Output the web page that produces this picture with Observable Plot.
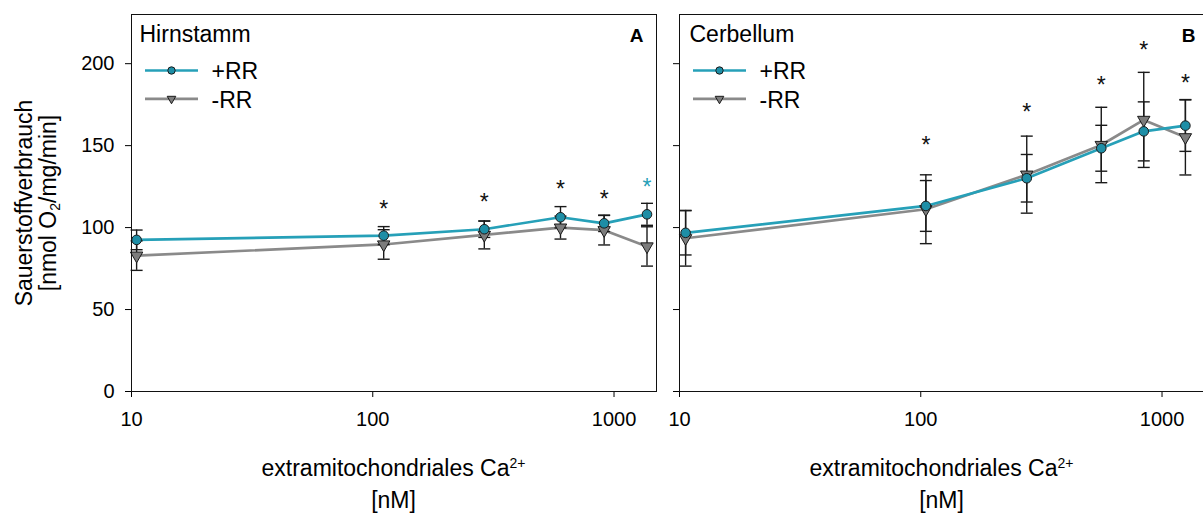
<!DOCTYPE html>
<html><head><meta charset="utf-8">
<script src="https://cdn.jsdelivr.net/npm/d3@7"></script>
<script src="https://cdn.jsdelivr.net/npm/@observablehq/plot@0.6"></script>
<style>
body{margin:0;background:#fff;}
#wrap{position:relative;width:1203px;height:515px;overflow:hidden;background:#fff;font-family:"Liberation Sans",Arial,sans-serif;color:#000;}
.lab{position:absolute;white-space:nowrap;font-size:23px;line-height:23px;transform:translateX(-50%);}
.lab sup{font-size:14px;line-height:0;vertical-align:8px;}
.ylab{position:absolute;left:35.7px;top:202.5px;transform:translate(-50%,-50%) rotate(-90deg);text-align:center;font-size:23px;line-height:24px;white-space:nowrap;}
.ylab sub{font-size:14px;line-height:0;vertical-align:-4px;}
#pA{position:absolute;left:0;top:0;width:660px;}
#pB{position:absolute;left:660px;top:0;width:560px;}
</style></head>
<body>
<div id="wrap">
  <div id="pA"></div>
  <div id="pB"></div>
  <div class="ylab">Sauerstoffverbrauch<br>[nmol O<sub>2</sub>/mg/min]</div>
  <div class="lab" style="left:393.5px;top:456.5px">extramitochondriales Ca<sup>2+</sup></div>
  <div class="lab" style="left:393.5px;top:489px">[nM]</div>
  <div class="lab" style="left:941.5px;top:456.5px">extramitochondriales Ca<sup>2+</sup></div>
  <div class="lab" style="left:941.5px;top:489px">[nM]</div>
</div>
<script>
// ---- data ----
const seriesNames = ["+RR", "-RR"];
const panelTitles = ["Hirnstamm", "Cerbellum"];
const panelLetters = ["A", "B"];
const xTicks = [10, 100, 1000];
const yTicks = [0, 50, 100, 150, 200];

// Panel A (Hirnstamm)
const caA = [10.5, 111, 290, 600, 910, 1370];
const plusA = [92.5, 95.1, 99, 106.3, 102.6, 108.1];
const plusSdA = [6, 5.5, 5, 6.5, 5, 6.7];
const minusA = [82.9, 89.7, 95.5, 100, 98.4, 88.5];
const minusSdA = [9, 9, 8.5, 7, 9, 12];
const starXA = [111, 290, 600, 910, 1370];
const starYA = [114.5, 119.1, 126.6, 120.9, 128];
const starKindA = ["both", "both", "both", "both", "plus"];

// Panel B (Cerbellum)
const caB = [10.6, 105, 275, 560, 840, 1250];
const plusB = [96.8, 113.2, 130.1, 148.4, 158.7, 162.2];
const plusSdB = [13.5, 15.5, 14.5, 14, 18, 15.7];
const minusB = [93.5, 111.2, 132.3, 150.4, 165.7, 155.1];
const minusSdB = [17, 21, 23.5, 23, 29, 23];
const starXB = [105, 275, 560, 840, 1250];
const starYB = [153.5, 173.8, 190.1, 211.6, 191.3];
const starKindB = ["both", "both", "both", "both", "both"];

// ---- styles ----
const TEAL = "#26a0b8", TEALFILL = "#1e8ea6", GREY = "#8a8a8a", GREYFILL = "#7c7c7c", DARK = "#1a1a1a";
const FONT = "'Liberation Sans', Arial, sans-serif";
const lineSym = w => ({draw(ctx) { ctx.moveTo(-w / 2, 0); ctx.lineTo(w / 2, 0); }});
const capSym = lineSym(12), legSym = lineSym(53);

function panel(cfg) {
  const P = cfg.x.map((x, i) => ({x, m: cfg.plus[i], sd: cfg.plusSd[i]}));
  const M = cfg.x.map((x, i) => ({x, m: cfg.minus[i], sd: cfg.minusSd[i]}));
  const S = cfg.starX.map((x, i) => ({x, y: cfg.starY[i], k: cfg.starKind[i]}));
  const err = d => [
    Plot.ruleX(d, {x: "x", y1: r => r.m - r.sd, y2: r => r.m + r.sd, stroke: DARK, strokeWidth: 1.4}),
    Plot.dot(d, {x: "x", y: r => r.m + r.sd, symbol: capSym, stroke: DARK, fill: "none", strokeWidth: 1.4}),
    Plot.dot(d, {x: "x", y: r => r.m - r.sd, symbol: capSym, stroke: DARK, fill: "none", strokeWidth: 1.4})
  ];
  return Plot.plot({
    width: cfg.w, height: 420,
    marginLeft: cfg.ml, marginRight: cfg.mr, marginTop: 14, marginBottom: 29,
    style: {fontFamily: FONT, fontSize: "20px", background: "transparent", maxWidth: "none", overflow: "visible"},
    x: {type: "log", domain: [10, 1500]},
    y: {domain: [0, 230]},
    marks: [
      Plot.axisY({ticks: yTicks, label: null, tickSize: 6, tickPadding: 11, tickFormat: cfg.yLabels ? d => String(d) : () => "", fontSize: 20}),
      Plot.axisX({ticks: xTicks, label: null, tickSize: 6, tickPadding: 14, tickFormat: d => String(d), fontSize: 20}),
      Plot.line(M, {x: "x", y: "m", stroke: GREY, strokeWidth: 2.7}),
      Plot.line(P, {x: "x", y: "m", stroke: TEAL, strokeWidth: 2.7}),
      ...err(M), ...err(P),
      Plot.dot(M, {x: "x", y: "m", symbol: "triangle", rotate: 180, r: 4.6, fill: GREYFILL, stroke: DARK, strokeWidth: 1}),
      Plot.dot(P, {x: "x", y: "m", r: 4.8, fill: TEALFILL, stroke: DARK, strokeWidth: 1}),
      Plot.text(S.filter(d => d.k === "both"), {x: "x", y: "y", text: () => "*", fill: "#111", dy: 6, fontSize: 23}),
      Plot.text(S.filter(d => d.k === "plus"), {x: "x", y: "y", text: () => "*", fill: TEAL, dy: 6, fontSize: 23}),
      Plot.frame({stroke: "#111"}),
      // panel title and letter
      Plot.text([cfg.title], {frameAnchor: "top-left", text: d => d, dx: cfg.titleDx, dy: 10.7, fontSize: 23, lineAnchor: "top", textAnchor: "start"}),
      Plot.text([cfg.letter], {frameAnchor: "top-right", text: d => d, dx: cfg.letterDx, dy: 21.5, fontSize: 19, fontWeight: "bold", lineAnchor: "middle", textAnchor: "end"}),
      // legend
      Plot.dot([0], {frameAnchor: "top-left", dx: 40, dy: 56, symbol: legSym, stroke: TEAL, strokeWidth: 2.7, fill: "none"}),
      Plot.dot([0], {frameAnchor: "top-left", dx: 40, dy: 56, r: 3.7, fill: TEALFILL, stroke: DARK, strokeWidth: 1}),
      Plot.dot([0], {frameAnchor: "top-left", dx: 40, dy: 84.3, symbol: legSym, stroke: GREY, strokeWidth: 2.7, fill: "none"}),
      Plot.dot([0], {frameAnchor: "top-left", dx: 40, dy: 84.3, symbol: "triangle", rotate: 180, r: 3.2, fill: GREYFILL, stroke: DARK, strokeWidth: 1}),
      Plot.text([seriesNames[0]], {frameAnchor: "top-left", text: d => d, dx: 80, dy: 57.5, fontSize: 23, lineAnchor: "middle", textAnchor: "start"}),
      Plot.text([seriesNames[1]], {frameAnchor: "top-left", text: d => d, dx: 80, dy: 86, fontSize: 23, lineAnchor: "middle", textAnchor: "start"})
    ]
  });
}

document.getElementById("pA").append(panel({
  x: caA, plus: plusA, plusSd: plusSdA, minus: minusA, minusSd: minusSdA,
  starX: starXA, starY: starYA, starKind: starKindA,
  title: panelTitles[0], letter: panelLetters[0], titleDx: 8, letterDx: -13,
  w: 660, ml: 131, mr: 4, yLabels: true
}));
document.getElementById("pB").append(panel({
  x: caB, plus: plusB, plusSd: plusSdB, minus: minusB, minusSd: minusSdB,
  starX: starXB, starY: starYB, starKind: starKindB,
  title: panelTitles[1], letter: panelLetters[1], titleDx: 10, letterDx: -9,
  w: 560, ml: 19, mr: 16, yLabels: false
}));
</script>
</body></html>
